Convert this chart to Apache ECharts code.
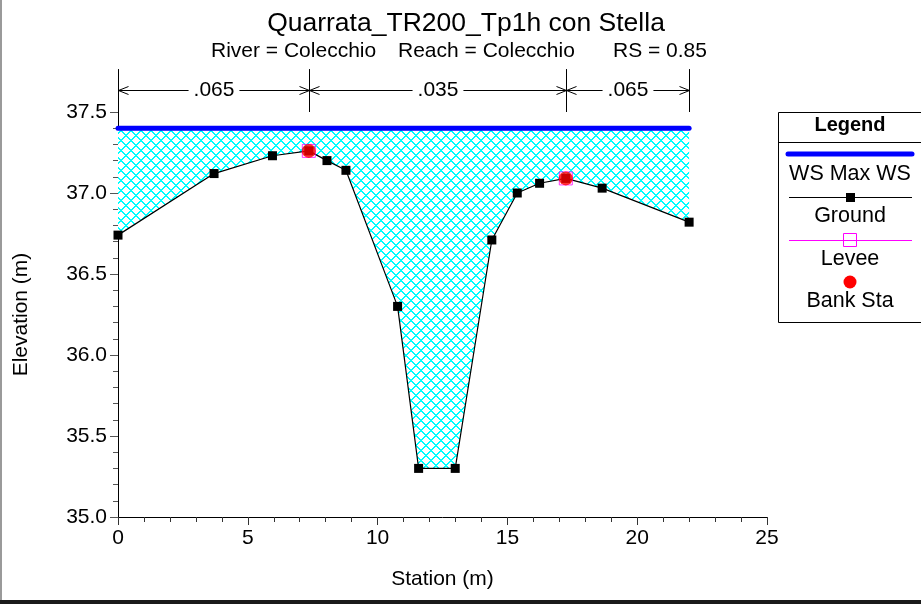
<!DOCTYPE html>
<html>
<head>
<meta charset="utf-8">
<script src="https://cdn.jsdelivr.net/npm/echarts@6/dist/echarts.min.js"></script>
<style>
html,body{margin:0;padding:0;background:#fff;}
#chart{width:921px;height:604px;}
</style>
</head>
<body>
<div id="chart"></div>
<script>
// ---- data ----
const titleText = 'Quarrata_TR200_Tp1h con Stella';
const subtitleParts = ['River = Colecchio', 'Reach = Colecchio', 'RS = 0.85'];
const stations = [0, 3.7, 5.95, 7.35, 8.05, 8.78, 10.77, 11.58, 12.99, 14.4, 15.38, 16.24, 17.25, 18.65, 22.0];
const elevations = [36.74, 37.12, 37.23, 37.26, 37.20, 37.14, 36.30, 35.30, 35.30, 36.71, 37.00, 37.06, 37.09, 37.03, 36.82];
const wsElevation = 37.40;
const leveeStations = [7.35, 17.25];
const leveeElevations = [37.26, 37.09];
const bankStations = [7.35, 17.25];
const bankElevations = [37.26, 37.09];
const nBreaks = [0, 7.35, 17.25, 22.0];
const nValues = ['.065', '.035', '.065'];
const legendNames = ['WS Max WS', 'Ground', 'Levee', 'Bank Sta'];

const FONT = 'Liberation Sans, Arial, Helvetica, sans-serif';

// crosshatch tile
const P = 10;
const tile = document.createElement('canvas');
tile.width = P; tile.height = P;
(function () {
  const c = tile.getContext('2d');
  c.fillStyle = '#ffffff';
  c.fillRect(0, 0, P, P);
  c.fillStyle = '#00ffff';
  for (let i = 0; i < P; i++) {
    for (let j = 0; j < P; j++) {
      if (((i - j + P) % P) < 2 || ((i + j) % P) < 2) c.fillRect(i, j, 1, 1);
    }
  }
})();

const measureCtx = document.createElement('canvas').getContext('2d');
function textWidth(t, size) {
  measureCtx.font = size + 'px ' + FONT;
  return measureCtx.measureText(t).width;
}

const chart = echarts.init(document.getElementById('chart'));

const groundData = stations.map((s, i) => [s, elevations[i]]);
const wsData = [[stations[0], wsElevation], [stations[stations.length - 1], wsElevation]];

const nTop = 37.765, nArrowY = 37.636, nBottom = 37.5;
const FS = 21;

const option = {
  animation: false,
  backgroundColor: '#ffffff',
  title: {
    text: titleText,
    left: 461,
    top: 5,
    textAlign: 'center',
    textStyle: { fontFamily: FONT, fontSize: 26.5, fontWeight: 'normal', color: '#000' }
  },
  grid: { left: 118, right: 154, top: 112, bottom: 87, containLabel: false },
  xAxis: {
    type: 'value', min: 0, max: 25, interval: 5,
    name: 'Station (m)', nameLocation: 'middle', nameGap: 52,
    nameTextStyle: { fontFamily: FONT, fontSize: FS, color: '#000' },
    axisLine: { lineStyle: { color: '#000', width: 1 } },
    axisTick: { show: true, length: 8, lineStyle: { color: '#333' } },
    minorTick: { show: true, splitNumber: 5, length: 5, lineStyle: { color: '#333' } },
    splitLine: { show: false },
    axisLabel: { fontFamily: FONT, fontSize: FS, color: '#000', margin: 11 }
  },
  yAxis: {
    type: 'value', min: 35, max: 37.5, interval: 0.5,
    name: 'Elevation (m)', nameLocation: 'middle', nameGap: 86,
    nameTextStyle: { fontFamily: FONT, fontSize: FS, color: '#000' },
    axisLine: { show: true, lineStyle: { color: '#000', width: 1 } },
    axisTick: { show: true, length: 8, lineStyle: { color: '#555' } },
    minorTick: { show: true, splitNumber: 5, length: 5, lineStyle: { color: '#555' } },
    splitLine: { show: false },
    axisLabel: { fontFamily: FONT, fontSize: FS, color: '#000', margin: 11, formatter: v => v.toFixed(1) }
  },
  series: [
    {
      type: 'custom', name: 'fill', z: 1, clip: false,
      data: [[stations[0], wsElevation]],
      renderItem: function (params, api) {
        const pts = stations.map((s, i) => api.coord([s, elevations[i]]));
        pts.push(api.coord([stations[stations.length - 1], wsElevation]));
        pts.push(api.coord([stations[0], wsElevation]));
        return { type: 'polygon', shape: { points: pts }, style: { fill: { image: tile, repeat: 'repeat' }, stroke: null } };
      }
    },
    {
      type: 'line', name: 'WS Max WS', z: 3, data: wsData, symbol: 'none',
      lineStyle: { color: '#0000ff', width: 5, cap: 'round' }
    },
    {
      type: 'line', name: 'Ground', z: 4, data: groundData, symbol: 'rect', symbolSize: 9,
      itemStyle: { color: '#000' }, lineStyle: { color: '#000', width: 1.2 }
    },
    {
      type: 'scatter', name: 'Levee', z: 5, data: leveeStations.map((s, i) => [s, leveeElevations[i]]),
      symbol: 'rect', symbolSize: 13,
      itemStyle: { color: 'rgba(0,0,0,0)', borderColor: '#ff00ff', borderWidth: 1 }
    },
    {
      type: 'scatter', name: 'Bank Sta', z: 6, data: bankStations.map((s, i) => [s, bankElevations[i]]),
      symbol: 'circle', symbolSize: 14, itemStyle: { color: '#ff0000' }
    },
    {
      type: 'custom', name: 'n values', z: 7, clip: false,
      data: [[0, nBottom]],
      renderItem: function (params, api) {
        const children = [];
        nBreaks.forEach(b => {
          const p1 = api.coord([b, nBottom]);
          const p2 = api.coord([b, nTop]);
          children.push({ type: 'line', shape: { x1: Math.round(p1[0]) + 0.5, y1: p1[1], x2: Math.round(p2[0]) + 0.5, y2: p2[1] }, style: { stroke: '#000', lineWidth: 1 } });
        });
        for (let k = 0; k < nValues.length; k++) {
          const a = api.coord([nBreaks[k], nArrowY]);
          const b = api.coord([nBreaks[k + 1], nArrowY]);
          const y = Math.round(a[1]) + 0.5;
          const xa = Math.round(a[0]) + 0.5, xb = Math.round(b[0]) + 0.5;
          const mid = (xa + xb) / 2;
          const w = textWidth(nValues[k], FS);
          const gap = 5;
          children.push({ type: 'text', style: { text: nValues[k], x: mid, y: y, align: 'center', verticalAlign: 'middle', fontFamily: FONT, fontSize: FS, fill: '#000' } });
          children.push({ type: 'line', shape: { x1: xa, y1: y, x2: mid - w / 2 - gap, y2: y }, style: { stroke: '#000', lineWidth: 1 } });
          children.push({ type: 'line', shape: { x1: mid + w / 2 + gap, y1: y, x2: xb, y2: y }, style: { stroke: '#000', lineWidth: 1 } });
          children.push({ type: 'polyline', shape: { points: [[xa + 10, y - 4], [xa, y], [xa + 10, y + 4]] }, style: { stroke: '#000', lineWidth: 1, fill: null } });
          children.push({ type: 'polyline', shape: { points: [[xb - 10, y - 4], [xb, y], [xb - 10, y + 4]] }, style: { stroke: '#000', lineWidth: 1, fill: null } });
        }
        return { type: 'group', children: children };
      }
    }
  ],
  graphic: [
    // frame
    { type: 'rect', shape: { x: 0, y: 0, width: 2, height: 604 }, style: { fill: '#9a9a9a' }, silent: true },
    { type: 'rect', shape: { x: 0, y: 600, width: 921, height: 4 }, style: { fill: '#1a1a1a' }, silent: true },
    // subtitle
    { type: 'text', style: { text: subtitleParts[0], x: 211, y: 51, verticalAlign: 'middle', fontFamily: FONT, fontSize: FS, fill: '#000' } },
    { type: 'text', style: { text: subtitleParts[1], x: 398, y: 51, verticalAlign: 'middle', fontFamily: FONT, fontSize: FS, fill: '#000' } },
    { type: 'text', style: { text: subtitleParts[2], x: 613, y: 51, verticalAlign: 'middle', fontFamily: FONT, fontSize: FS, fill: '#000' } },
    // legend box
    { type: 'rect', shape: { x: 778.5, y: 112.5, width: 160, height: 210 }, style: { fill: '#fff', stroke: '#000', lineWidth: 1 } },
    { type: 'line', shape: { x1: 778, y1: 142.5, x2: 921, y2: 142.5 }, style: { stroke: '#000', lineWidth: 1 } },
    { type: 'text', style: { text: 'Legend', x: 850, y: 125, align: 'center', verticalAlign: 'middle', fontFamily: FONT, fontSize: 20, fontWeight: 'bold', fill: '#000' } },
    { type: 'line', shape: { x1: 788, y1: 154, x2: 912, y2: 154 }, style: { stroke: '#0000ff', lineWidth: 5, lineCap: 'round' } },
    { type: 'text', style: { text: legendNames[0], x: 850, y: 174, align: 'center', verticalAlign: 'middle', fontFamily: FONT, fontSize: 21.5, fill: '#000' } },
    { type: 'line', shape: { x1: 789, y1: 197.5, x2: 912, y2: 197.5 }, style: { stroke: '#000', lineWidth: 1 } },
    { type: 'rect', shape: { x: 846, y: 193, width: 9, height: 9 }, style: { fill: '#000' } },
    { type: 'text', style: { text: legendNames[1], x: 850, y: 216, align: 'center', verticalAlign: 'middle', fontFamily: FONT, fontSize: 21.5, fill: '#000' } },
    { type: 'line', shape: { x1: 789, y1: 240.5, x2: 912, y2: 240.5 }, style: { stroke: '#ff00ff', lineWidth: 1 } },
    { type: 'rect', shape: { x: 843.5, y: 233.5, width: 13, height: 13 }, style: { fill: 'rgba(0,0,0,0)', stroke: '#ff00ff', lineWidth: 1 } },
    { type: 'text', style: { text: legendNames[2], x: 850, y: 259, align: 'center', verticalAlign: 'middle', fontFamily: FONT, fontSize: 21.5, fill: '#000' } },
    { type: 'circle', shape: { cx: 850, cy: 282, r: 6.5 }, style: { fill: '#ff0000' } },
    { type: 'text', style: { text: legendNames[3], x: 850, y: 301, align: 'center', verticalAlign: 'middle', fontFamily: FONT, fontSize: 21.5, fill: '#000' } }
  ]
};
chart.setOption(option);
</script>
</body>
</html>
